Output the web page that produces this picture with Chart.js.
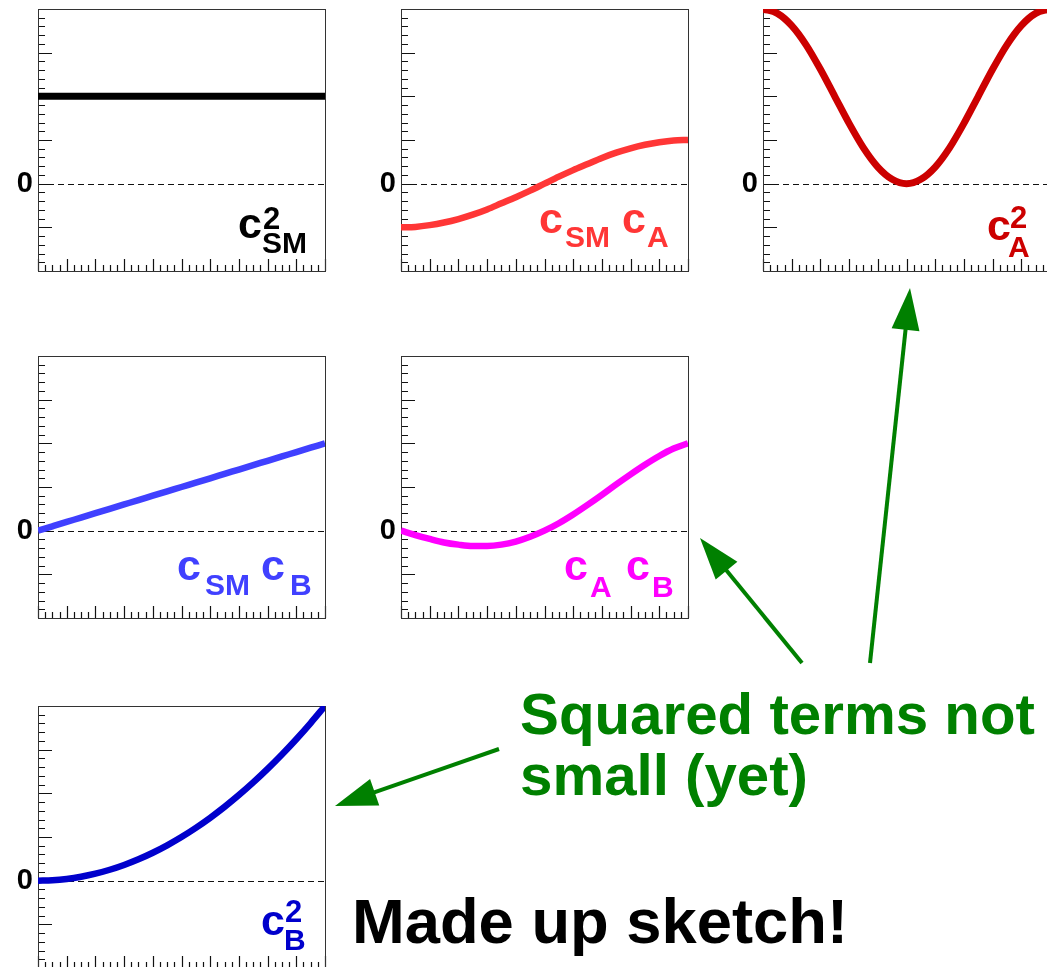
<!DOCTYPE html>
<html>
<head>
<meta charset="utf-8">
<script src="https://cdn.jsdelivr.net/npm/chart.js@4.4.0/dist/chart.umd.min.js"></script>
<style>
  html, body { margin: 0; padding: 0; background: #fff; }
  body { width: 1047px; height: 967px; overflow: hidden; position: relative; }
  .panel { position: absolute; }
  #notes { position: absolute; left: 0; top: 0; pointer-events: none; }
  #notes text { font-family: "Liberation Sans", Arial, sans-serif; font-weight: bold; }
</style>
</head>
<body>
<canvas id="p1" class="panel"></canvas>
<canvas id="p2" class="panel"></canvas>
<canvas id="p3" class="panel"></canvas>
<canvas id="p4" class="panel"></canvas>
<canvas id="p5" class="panel"></canvas>
<canvas id="p6" class="panel"></canvas>
<svg id="notes" width="1047" height="967" xmlns="http://www.w3.org/2000/svg"></svg>
<script>
// sample positions along the (unlabelled) x axis
const xs = [0, 0.05, 0.1, 0.15, 0.2, 0.25, 0.3, 0.35, 0.4, 0.45, 0.5,
            0.55, 0.6, 0.65, 0.7, 0.75, 0.8, 0.85, 0.9, 0.95, 1];

// values (y units: zero line = 0, top of frame = 4)
const cSM2  = [2, 2, 2, 2, 2, 2, 2, 2, 2, 2, 2, 2, 2, 2, 2, 2, 2, 2, 2, 2, 2];
const cSMcA = [-1, -0.99, -0.95, -0.89, -0.81, -0.71, -0.59, -0.45, -0.31, -0.16, 0,
               0.16, 0.31, 0.45, 0.59, 0.71, 0.81, 0.89, 0.95, 0.99, 1];
const cA2   = [4, 3.9, 3.62, 3.18, 2.62, 2, 1.38, 0.82, 0.38, 0.1, 0,
               0.1, 0.38, 0.82, 1.38, 2, 2.62, 3.18, 3.62, 3.9, 4];
const cSMcB = [0, 0.1, 0.2, 0.3, 0.4, 0.5, 0.6, 0.7, 0.8, 0.9, 1,
               1.1, 1.2, 1.3, 1.4, 1.5, 1.6, 1.7, 1.8, 1.9, 2];
const cAcB  = [0, -0.1, -0.19, -0.27, -0.32, -0.35, -0.35, -0.32, -0.25, -0.14, 0,
               0.17, 0.37, 0.59, 0.82, 1.06, 1.29, 1.51, 1.71, 1.88, 2];
const cB2   = [0, 0.01, 0.04, 0.09, 0.16, 0.25, 0.36, 0.49, 0.64, 0.81, 1,
               1.21, 1.44, 1.69, 1.96, 2.25, 2.56, 2.89, 3.24, 3.61, 4];

// axis ranges and tick spacing
const yMin = -2, yMax = 4, yMinorStep = 0.2, yMajorEvery = 5;
const xMin = 0, xMax = 1, xMinorStep = 0.025, xMajorEvery = 4;
const yTickLabels = { 0: "0" };

// frame size inside each canvas
const FW = 287, FH = 262, AXW = 38, PAD = 8;

const panels = [
  { id: "p1", vals: cSM2,  color: "#000000", lw: 7, left: 38,  top: 9 },
  { id: "p2", vals: cSMcA, color: "#ff3636", lw: 6.5, left: 401, top: 9 },
  { id: "p3", vals: cA2,   color: "#cc0000", lw: 7, left: 763, top: 9 },
  { id: "p4", vals: cSMcB, color: "#4040ff", lw: 6.5, left: 38,  top: 356 },
  { id: "p5", vals: cAcB,  color: "#ff00ff", lw: 6.5, left: 401, top: 356 },
  { id: "p6", vals: cB2,   color: "#0000cc", lw: 6.5, left: 38,  top: 706 }
];

// ROOT-style frame: inward ticks on left and bottom, dashed zero line
const frameTicks = {
  id: "frameTicks",
  beforeDatasetsDraw(chart) {
    const { ctx, chartArea: a, scales: { x, y } } = chart;
    ctx.save();
    ctx.strokeStyle = "#111";
    ctx.lineWidth = 1.2;

    const y0 = Math.round(y.getPixelForValue(0)) + 0.5;
    ctx.setLineDash([6, 4]);
    ctx.beginPath();
    ctx.moveTo(a.left, y0);
    ctx.lineTo(a.right, y0);
    ctx.stroke();
    ctx.setLineDash([]);

    ctx.beginPath();
    const ny = Math.round((yMax - yMin) / yMinorStep);
    for (let i = 0; i <= ny; i++) {
      const py = Math.round(y.getPixelForValue(yMin + i * yMinorStep)) + 0.5;
      const len = i % yMajorEvery === 0 ? 14 : 7;
      ctx.moveTo(a.left, py);
      ctx.lineTo(a.left + len, py);
    }
    const nx = Math.round((xMax - xMin) / xMinorStep);
    for (let i = 0; i <= nx; i++) {
      const px = Math.round(x.getPixelForValue(xMin + i * xMinorStep)) + 0.5;
      const len = i % xMajorEvery === 0 ? 12 : 6;
      ctx.moveTo(px, a.bottom);
      ctx.lineTo(px, a.bottom - len);
    }
    ctx.stroke();

    ctx.lineWidth = 1;
    ctx.strokeStyle = "#333";
    ctx.strokeRect(Math.round(a.left) + 0.5, Math.round(a.top) + 0.5,
                   Math.round(a.width), Math.round(a.height));
    ctx.restore();
  }
};

panels.forEach(p => {
  const cv = document.getElementById(p.id);
  cv.width = AXW + FW + PAD;
  cv.height = FH + 2 * PAD;
  cv.style.left = (p.left - AXW) + "px";
  cv.style.top = (p.top - PAD) + "px";

  new Chart(cv.getContext("2d"), {
    type: "line",
    data: {
      datasets: [{
        data: xs.map((x, i) => ({ x: x, y: p.vals[i] })),
        borderColor: p.color,
        borderWidth: p.lw,
        pointRadius: 0,
        cubicInterpolationMode: "monotone",
        fill: false
      }]
    },
    options: {
      responsive: false,
      animation: false,
      devicePixelRatio: 1,
      events: [],
      layout: { padding: { left: 0, top: PAD, right: PAD, bottom: PAD } },
      plugins: { legend: { display: false }, tooltip: { enabled: false } },
      scales: {
        x: { type: "linear", min: xMin, max: xMax, display: false },
        y: {
          type: "linear",
          min: yMin,
          max: yMax,
          grid: { display: false, drawTicks: false },
          border: { display: false },
          afterFit(scale) {
            scale.width = AXW;
            scale.paddingTop = 0;
            scale.paddingBottom = 0;
          },
          ticks: {
            autoSkip: false,
            padding: 5,
            color: "#000",
            font: { family: "Liberation Sans, Arial, sans-serif", size: 29, weight: "bold" },
            callback: v => yTickLabels[v] !== undefined ? yTickLabels[v] : ""
          }
        }
      }
    },
    plugins: [frameTicks]
  });
});

// panel labels and annotations (SVG text)
const NS = "http://www.w3.org/2000/svg";
const svg = document.getElementById("notes");
function addText(str, x, y, size, fill, fitWidth) {
  const t = document.createElementNS(NS, "text");
  t.setAttribute("x", x);
  t.setAttribute("y", y);
  t.setAttribute("font-size", size);
  t.setAttribute("fill", fill);
  if (fitWidth) {
    t.setAttribute("textLength", fitWidth);
    t.setAttribute("lengthAdjust", "spacingAndGlyphs");
  }
  t.textContent = str;
  svg.appendChild(t);
}

const labels = [
  // [text, x, baseline, size, colour]
  ["c", 238, 238, 43, "#000000"], ["2", 263, 229, 31, "#000000"], ["SM", 262, 253, 30, "#000000"],
  ["c", 539, 233, 43, "#ff3636"], ["SM", 565, 247, 30, "#ff3636"],
  ["c", 622, 233, 43, "#ff3636"], ["A", 647, 247, 30, "#ff3636"],
  ["c", 987, 240, 43, "#cc0000"], ["2", 1010, 228, 31, "#cc0000"], ["A", 1008, 257, 30, "#cc0000"],
  ["c", 177, 580, 43, "#4040ff"], ["SM", 205, 595, 30, "#4040ff"],
  ["c", 261, 580, 43, "#4040ff"], ["B", 290, 595, 30, "#4040ff"],
  ["c", 564, 580, 43, "#ff00ff"], ["A", 590, 597, 30, "#ff00ff"],
  ["c", 626, 580, 43, "#ff00ff"], ["B", 652, 597, 30, "#ff00ff"],
  ["c", 261, 935, 43, "#0000cc"], ["2", 285, 922, 31, "#0000cc"], ["B", 284, 950, 30, "#0000cc"]
];
labels.forEach(l => addText(l[0], l[1], l[2], l[3], l[4]));

const green = "#008000";
addText("Squared terms not", 520, 734, 58, green, 515);
addText("small (yet)", 520, 795, 58, green, 288);
addText("Made up sketch!", 352, 943, 63, "#000000", 496);

const arrows = [
  { from: [870, 663], to: [910, 288] },
  { from: [802, 663], to: [700, 538] },
  { from: [499, 749], to: [335, 806] }
];
arrows.forEach(ar => {
  const [x1, y1] = ar.from, [x2, y2] = ar.to;
  const L = Math.hypot(x2 - x1, y2 - y1);
  const dx = (x2 - x1) / L, dy = (y2 - y1) / L;
  const hl = 42, hw = 28;
  const bx = x2 - dx * hl, by = y2 - dy * hl;
  const ln = document.createElementNS(NS, "line");
  ln.setAttribute("x1", x1); ln.setAttribute("y1", y1);
  ln.setAttribute("x2", bx + dx * 2); ln.setAttribute("y2", by + dy * 2);
  ln.setAttribute("stroke", green); ln.setAttribute("stroke-width", 4);
  svg.appendChild(ln);
  const pg = document.createElementNS(NS, "polygon");
  const pts = [[x2, y2], [bx - dy * hw / 2, by + dx * hw / 2], [bx + dy * hw / 2, by - dx * hw / 2]];
  pg.setAttribute("points", pts.map(q => q.join(",")).join(" "));
  pg.setAttribute("fill", green);
  svg.appendChild(pg);
});
</script>
</body>
</html>
